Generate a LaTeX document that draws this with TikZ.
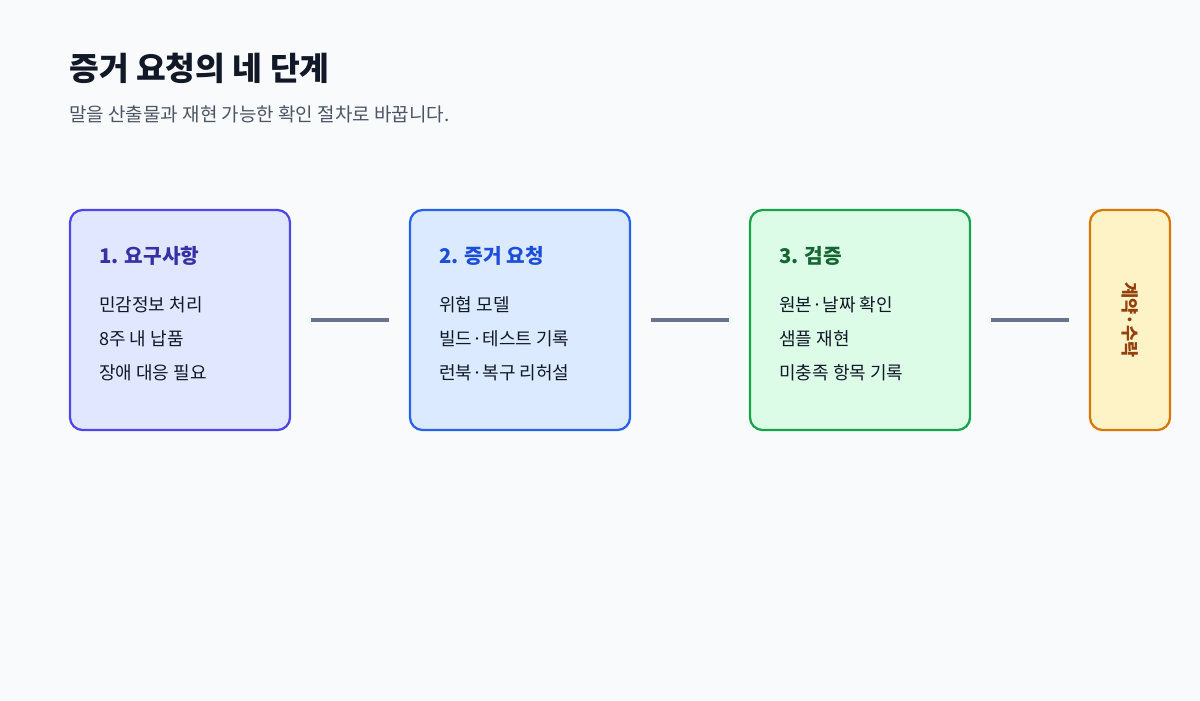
\documentclass[tikz,border=0pt]{standalone}
\usepackage{fontspec}
\setmainfont{Noto Sans CJK KR}
\definecolor{bg}{HTML}{F8FAFC}
\definecolor{ink}{HTML}{111827}
\definecolor{sub}{HTML}{4B5563}
\definecolor{conn}{HTML}{64748B}
\definecolor{fA}{HTML}{E0E7FF}\definecolor{dA}{HTML}{4F46E5}\definecolor{tA}{HTML}{3730A3}
\definecolor{fB}{HTML}{DBEAFE}\definecolor{dB}{HTML}{2563EB}\definecolor{tB}{HTML}{1D4ED8}
\definecolor{fC}{HTML}{DCFCE7}\definecolor{dC}{HTML}{16A34A}\definecolor{tC}{HTML}{166534}
\definecolor{fD}{HTML}{FEF3C7}\definecolor{dD}{HTML}{D97706}\definecolor{tD}{HTML}{92400E}
\begin{document}
\begin{tikzpicture}[x=0.025cm,y=-0.025cm,
 box/.style={draw, line width=1.6pt, rounded corners=9pt, inner sep=0pt},
 btitle/.style={anchor=base west, inner xsep=0pt, font=\fontsize{14.4}{17}\selectfont\bfseries},
 item/.style={anchor=base west, inner xsep=0pt, text=ink, font=\fontsize{12.8}{15}\selectfont},
 link/.style={draw=conn, line width=2.5pt, shorten <=0.5cm, shorten >=0.5cm}]
\fill[bg] (0,0) rectangle (1200,700);
\useasboundingbox (0,0) rectangle (1200,700);
\node[anchor=base west, inner xsep=0pt, text=ink, font=\fontsize{23}{27}\selectfont\bfseries] (title) at (69,80) {증거 요청의 네 단계};
\node[anchor=base west, inner xsep=0pt, text=sub, font=\fontsize{13.5}{16}\selectfont] (subt) at (69,121) {말을 산출물과 재현 가능한 확인 절차로 바꿉니다.};
\node[box, fill=fA, draw=dA, minimum width=5.5cm, minimum height=5.5cm] (b1) at (180,320) {};
\node[box, fill=fB, draw=dB, minimum width=5.5cm, minimum height=5.5cm] (b2) at (520,320) {};
\node[box, fill=fC, draw=dC, minimum width=5.5cm, minimum height=5.5cm] (b3) at (860,320) {};
\node[box, fill=fD, draw=dD, minimum width=2cm, minimum height=5.5cm] (b4) at (1130,320) {};
\node[rotate=-90, text=tD, font=\fontsize{12.5}{15}\selectfont\bfseries] (b4t) at (b4.center) {계약·수락};
\node[btitle, text=tA] (t1) at (99,263) {1. 요구사항};
\node[item] (i11) at (99,311) {민감정보 처리};
\node[item] (i12) at (99,345) {8주 내 납품};
\node[item] (i13) at (99,379) {장애 대응 필요};
\node[btitle, text=tB] (t2) at (439,263) {2. 증거 요청};
\node[item] (i21) at (439,311) {위협 모델};
\node[item] (i22) at (439,345) {빌드·테스트 기록};
\node[item] (i23) at (439,379) {런북·복구 리허설};
\node[btitle, text=tC] (t3) at (779,263) {3. 검증};
\node[item] (i31) at (779,311) {원본·날짜 확인};
\node[item] (i32) at (779,345) {샘플 재현};
\node[item] (i33) at (779,379) {미충족 항목 기록};
\draw[link] (b1.east) -- (b2.west);
\draw[link] (b2.east) -- (b3.west);
\draw[link] (b3.east) -- (b4.west);
\end{tikzpicture}
\end{document}
